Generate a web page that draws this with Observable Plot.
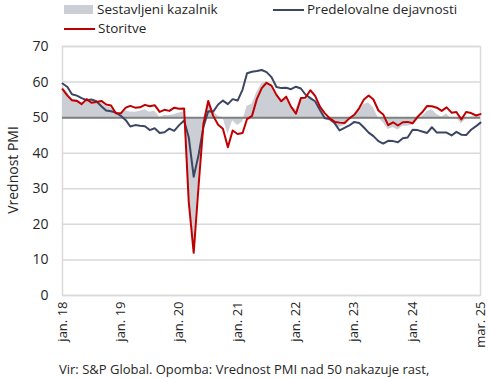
<!DOCTYPE html>
<html>
<head>
<meta charset="utf-8">
<script src="https://cdn.jsdelivr.net/npm/d3@7"></script>
<script src="https://cdn.jsdelivr.net/npm/@observablehq/plot@0.6"></script>
<style>
  html, body { margin: 0; padding: 0; background: #fff; }
  body { width: 490px; height: 378px; position: relative; overflow: hidden; font-family: "Open Sans", "Noto Sans", sans-serif; color: #262626; }
  #legend { position: absolute; left: 0; top: 0; width: 490px; height: 38px; font-size: 13.5px; line-height: 15px; }
  .item { position: absolute; display: flex; align-items: center; white-space: nowrap; height: 15px; }
  .sw-rect { width: 29px; height: 9px; background: #cbced4; margin-right: 4px; }
  .sw-line { width: 31px; height: 2px; margin-right: 3px; }
  #ylabel { position: absolute; left: 12px; top: 170px; transform: translate(-50%, -50%) rotate(-90deg); font-size: 14px; white-space: nowrap; }
  #caption { position: absolute; left: 59px; top: 360px; font-size: 13px; white-space: nowrap; }
  #chart { position: absolute; left: 0; top: 30px; }
</style>
</head>
<body>
<div id="chart"></div>
<div id="legend">
  <div class="item" style="left:64px; top:2px;"><div class="sw-rect"></div><span>Sestavljeni kazalnik</span></div>
  <div class="item" style="left:273px; top:2px;"><div class="sw-line" style="background:#3c4663"></div><span>Predelovalne dejavnosti</span></div>
  <div class="item" style="left:64px; top:21px;"><div class="sw-line" style="background:#c00000"></div><span>Storitve</span></div>
</div>
<div id="ylabel">Vrednost PMI</div>
<div id="caption">Vir: S&amp;P Global. Opomba: Vrednost PMI nad 50 nakazuje rast,</div>
<script>
// Monthly values, Jan 2018 – Mar 2025
const manufacturing = [
  59.6,58.6,56.6,56.2,55.5,54.9,55.1,54.6,53.2,52.0,51.8,51.4,
  50.5,49.3,47.5,47.9,47.7,47.6,46.5,47.0,45.7,45.9,46.9,46.3,
  47.9,49.2,44.5,33.4,39.4,47.4,51.8,51.7,53.7,54.8,53.8,55.2,
  54.8,57.9,62.5,62.9,63.1,63.4,62.8,61.4,58.6,58.3,58.4,58.0,
  58.7,58.2,56.5,55.5,54.6,52.1,49.8,49.6,48.4,46.4,47.1,47.8,
  48.8,48.5,47.3,45.8,44.8,43.4,42.7,43.5,43.4,43.1,44.2,44.4,
  46.6,46.5,46.1,45.7,47.3,45.8,45.8,45.8,45.0,46.0,45.2,45.1,
  46.6,47.6,48.6
];
const services = [
  58.0,56.2,54.9,54.7,53.8,55.2,54.2,54.4,54.7,53.7,53.4,51.2,
  51.2,52.8,53.3,52.8,52.9,53.6,53.2,53.5,51.6,52.2,51.9,52.8,
  52.5,52.6,26.4,12.0,30.5,48.3,54.7,50.5,48.0,46.9,41.7,46.4,
  45.4,45.7,49.6,50.5,55.2,58.3,59.8,59.0,56.4,54.6,55.9,53.1,
  51.1,55.5,55.6,57.7,56.1,53.0,51.2,49.8,48.8,48.6,48.5,49.8,
  50.8,52.7,55.0,56.2,55.1,52.0,50.9,47.9,48.7,47.8,48.7,48.8,
  48.4,50.2,51.5,53.3,53.2,52.8,51.9,52.9,51.4,51.6,49.5,51.6,
  51.3,50.6,51.0
];
const composite = [
  58.8,57.1,55.2,55.1,54.1,54.9,54.3,54.5,54.1,53.1,52.7,51.1,
  51.0,51.9,51.6,51.5,51.8,52.2,51.5,51.9,50.1,50.6,50.6,50.9,
  51.3,51.6,29.7,13.6,31.9,48.5,54.9,51.9,50.4,50.0,45.3,49.1,
  47.8,48.8,53.2,53.8,57.1,59.5,60.2,59.0,56.2,54.2,55.4,53.3,
  52.3,55.5,54.9,55.8,54.8,52.0,49.9,48.9,48.1,47.3,47.8,49.3,
  50.3,52.0,53.7,54.1,52.8,49.9,48.6,46.7,47.2,46.5,47.6,47.6,
  47.9,49.2,50.3,51.7,52.2,50.9,50.2,51.0,49.6,50.0,48.3,49.6,
  50.2,50.2,50.4
];
const tickLabels = ["jan. 18","jan. 19","jan. 20","jan. 21","jan. 22","jan. 23","jan. 24","mar. 25"];
const tickMonths = [[2018,0],[2019,0],[2020,0],[2021,0],[2022,0],[2023,0],[2024,0],[2025,2]];
const yTicks = [0,10,20,30,40,50,60,70];
const threshold = 50;

const dates = manufacturing.map((_, i) => new Date(Date.UTC(2018, i, 1)));
const data = dates.map((d, i) => ({date: d, manufacturing: manufacturing[i], services: services[i], composite: composite[i]}));
const tickDates = tickMonths.map(([y, m]) => new Date(Date.UTC(y, m, 1)));
const fmt = d => tickLabels[tickDates.findIndex(t => +t === +d)];

const chart = Plot.plot({
  width: 490,
  height: 322,
  marginLeft: 62,
  marginRight: 10,
  marginTop: 16,
  marginBottom: 57,
  style: {fontFamily: '"Open Sans", "Noto Sans", sans-serif', color: "#262626", background: "transparent"},
  x: {type: "utc", domain: [dates[0], dates[dates.length - 1]]},
  y: {domain: [0, 70]},
  marks: [
    Plot.gridY(yTicks, {stroke: "#d9d9d9", strokeOpacity: 1, strokeWidth: 1.5}),
    Plot.frame({stroke: "#d9d9d9", strokeWidth: 1.5}),
    Plot.areaY(data, {x: "date", y1: threshold, y2: "composite", fill: "#cbced4"}),
    Plot.ruleY([threshold], {stroke: "#7f7f7f", strokeWidth: 2}),
    Plot.lineY(data, {x: "date", y: "manufacturing", stroke: "#3c4663", strokeWidth: 2}),
    Plot.lineY(data, {x: "date", y: "services", stroke: "#c00000", strokeWidth: 2}),
    Plot.axisY(yTicks, {tickSize: 0, tickPadding: 14, fontSize: 14, label: null}),
    Plot.axisX(tickDates, {tickSize: 0, tickPadding: 6, tickRotate: -90, tickFormat: fmt, fontSize: 13, label: null})
  ]
});
document.getElementById("chart").appendChild(chart);
</script>
</body>
</html>
